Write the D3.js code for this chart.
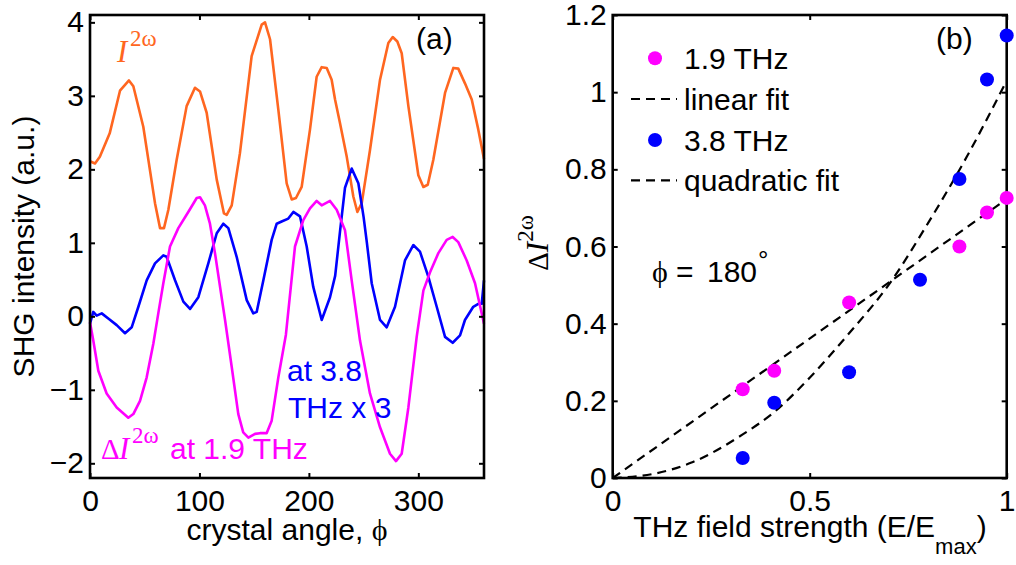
<!DOCTYPE html>
<html><head><meta charset="utf-8">
<script src="https://cdn.jsdelivr.net/npm/d3@7"></script>
<style>
html,body{margin:0;padding:0;background:#fff;}
</style></head>
<body>
<svg id="chart" width="1016" height="565" font-family="Liberation Sans, Arial, sans-serif"></svg>
<script>
// ---------- Panel (a) data ----------
const orangePhi = [0,4.6,9,18,27.4,35.6,39.6,48.7,59.4,64,67.6,71.6,79.2,88.3,95.9,100.5,106.6,115.8,122.4,124.9,129.5,137,147.7,156.9,159.9,164.5,172.1,179.7,184.3,188.2,193.4,201,207.1,211.7,216.3,220.8,223.9,228.4,234.6,240.6,244.3,248.3,255.8,265,272.6,276.6,280.8,284.8,290.9,300,304.6,308.6,313.7,324.4,332,336.5,342.6,348.8,354.8,360];
const orangeVal = [2.11,2.08,2.17,2.49,3.07,3.21,3.13,2.58,1.54,1.20,1.20,1.45,2.13,2.86,3.11,3.06,2.77,1.86,1.40,1.38,1.51,2.22,3.54,3.97,4.00,3.77,2.81,1.81,1.59,1.61,1.76,2.54,3.26,3.39,3.38,3.22,2.95,2.63,2.17,1.63,1.42,1.54,2.26,3.22,3.72,3.80,3.74,3.58,2.86,1.92,1.76,1.79,2.13,3.04,3.38,3.37,3.17,2.95,2.54,2.14];

const magentaPhi = [0,3,7.6,15.2,24.4,35,39.6,45.7,51.8,57.9,62.4,67,73.1,80.7,89.8,97.5,100.5,105,109.6,114.2,123.4,129.5,135.5,140,144.7,150.8,155.3,161.4,166,172.1,179,187.3,194.9,201,207.1,211.7,219.3,225.4,233,239.1,246.7,255.8,265,274.1,279.6,284.8,290.9,298.5,304.6,310.7,318.3,325.9,331.4,336.5,344.2,351.8,360];
const magentaVal = [-0.08,-0.33,-0.74,-1.05,-1.24,-1.38,-1.33,-1.15,-0.83,-0.37,0.04,0.45,0.95,1.20,1.42,1.61,1.62,1.51,1.26,0.86,-0.05,-0.69,-1.33,-1.58,-1.65,-1.60,-1.59,-1.59,-1.42,-0.83,-0.25,0.95,1.31,1.47,1.57,1.51,1.57,1.45,1.17,0.49,-0.33,-1.05,-1.51,-1.87,-1.97,-1.87,-1.24,-0.28,0.35,0.60,0.86,1.04,1.08,1.01,0.76,0.45,-0.10];

const bluePhi = [0,3,6.1,10.7,16.7,24.4,32,38.1,44.2,51.8,59.4,67,70,77.7,85.3,91.4,99,108.1,115.8,121.8,126.4,134,143.2,149.2,152.3,158.4,166,170.6,175.1,181.2,185.8,191.9,198,204,211.7,219.3,224,228.4,233,239.1,245.2,250,253,257.4,265,271.1,278.7,287.8,295.4,301.5,309.1,316.8,324.4,331.4,338.1,342.6,350.2,354.8,357.9,360];
const blueVal = [-0.10,0.06,0.01,0.04,-0.03,-0.12,-0.23,-0.15,0.13,0.49,0.72,0.83,0.81,0.49,0.20,0.10,0.26,0.72,1.13,1.26,1.20,0.81,0.22,0.04,0.06,0.49,1.04,1.26,1.29,1.33,1.42,1.36,0.95,0.40,-0.05,0.26,0.55,1.15,1.75,2.01,1.81,1.35,1.00,0.45,-0.05,-0.15,0.13,0.76,0.97,0.88,0.54,0.13,-0.28,-0.36,-0.26,-0.05,0.13,0.17,0.17,0.49];

const aXTicks = [0,100,200,300];
const aYTicks = [-2,-1,0,1,2,3,4];

// ---------- Panel (b) data ----------
const field19 = [0.33,0.41,0.60,0.88,0.95,1.00];
const dI19    = [0.230,0.278,0.455,0.600,0.688,0.726];
const field38 = [0.33,0.41,0.60,0.78,0.88,0.95,1.00];
const dI38    = [0.052,0.195,0.274,0.514,0.775,1.033,1.147];
const linFitX = [0,1];
const linFitY = [0,0.723];
const quadFitX = [0,0.1,0.2,0.33,0.41,0.5,0.6,0.7,0.8,0.9,1.0];
const quadFitY = [0,0.01,0.04,0.113,0.171,0.26,0.375,0.50,0.66,0.835,1.03];
const bXTicks = [0,0.5,1];
const bYTicks = [0,0.2,0.4,0.6,0.8,1,1.2];

const ORANGE = "#ff6620", MAGENTA = "#ff00ff", BLUE = "#0000ff";
const FS = 30;
const SERIF = "Liberation Serif, Times New Roman, serif";

const svg = d3.select("#chart");

function frame(g, x, y, xt, yt, fmtX, fmtY) {
  const [x0,x1] = x.range(), [y0,y1] = y.range();
  const b = g.append("g").attr("transform",`translate(0,${y0})`)
    .call(d3.axisBottom(x).tickValues(xt).tickSize(-5).tickPadding(12).tickFormat(fmtX));
  const t = g.append("g").attr("transform",`translate(0,${y1})`)
    .call(d3.axisTop(x).tickValues(xt).tickSize(-5).tickFormat(""));
  const l = g.append("g").attr("transform",`translate(${x0},0)`)
    .call(d3.axisLeft(y).tickValues(yt).tickSize(-5).tickPadding(6).tickFormat(fmtY));
  const r = g.append("g").attr("transform",`translate(${x1},0)`)
    .call(d3.axisRight(y).tickValues(yt).tickSize(-5).tickFormat(""));
  [b,t,l,r].forEach(a=>{
    a.attr("font-family",null).attr("font-size",null);
    a.select(".domain").remove();
    a.selectAll(".tick line").attr("stroke","#000").attr("stroke-width",2);
    a.selectAll(".tick text").attr("font-size",FS).attr("fill","#000");
  });
  g.append("rect").attr("x",x0).attr("y",y1).attr("width",x1-x0).attr("height",y0-y1)
    .attr("fill","none").attr("stroke","#000").attr("stroke-width",2.6);
}

// ---------- Panel (a) ----------
const xa = d3.scaleLinear().domain([0,360]).range([90,484]);
const ya = d3.scaleLinear().domain([-2.2,4.1]).range([478,15]);
const ga = svg.append("g");
const lineA = d3.line().x(d=>xa(d[0])).y(d=>ya(d[1]));
[[orangePhi,orangeVal,ORANGE],[bluePhi,blueVal,BLUE],[magentaPhi,magentaVal,MAGENTA]].forEach(([p,v,c])=>{
  ga.append("path").attr("d",lineA(p.map((d,i)=>[d,v[i]])))
    .attr("fill","none").attr("stroke",c).attr("stroke-width",2.6).attr("stroke-linejoin","round");
});
frame(ga, xa, ya, aXTicks, aYTicks, d3.format("d"), d3.format("d"));

// annotations (a)
ga.append("text").attr("x",416).attr("y",49).attr("font-size",FS).text("(a)");
ga.append("text").attr("x",117).attr("y",62).attr("font-family",SERIF)
  .attr("font-style","italic").attr("font-size",31).attr("fill",ORANGE).text("I");
ga.append("text").attr("x",130).attr("y",46).attr("font-family",SERIF)
  .attr("font-size",23).attr("fill",ORANGE).text("2ω");

ga.append("text").attr("x",101).attr("y",459).attr("font-family",SERIF)
  .attr("font-size",29).attr("fill",MAGENTA).text("Δ");
ga.append("text").attr("x",119).attr("y",459).attr("font-family",SERIF)
  .attr("font-style","italic").attr("font-size",31).attr("fill",MAGENTA).text("I");
ga.append("text").attr("x",132).attr("y",443).attr("font-family",SERIF)
  .attr("font-size",23).attr("fill",MAGENTA).text("2ω");
ga.append("text").attr("x",170).attr("y",459).attr("font-size",FS).attr("fill",MAGENTA).text("at 1.9 THz");

ga.append("text").attr("x",287).attr("y",381).attr("font-size",FS).attr("fill",BLUE).text("at 3.8");
ga.append("text").attr("x",288).attr("y",418).attr("font-size",FS).attr("fill",BLUE).text("THz x 3");

// axis labels (a)
const xla = ga.append("text").attr("x",287).attr("y",540).attr("text-anchor","middle").attr("font-size",FS);
xla.append("tspan").text("crystal angle, ");
xla.append("tspan").attr("font-family",SERIF).text("ϕ");
ga.append("text").attr("transform","translate(34,246.5) rotate(-90)").attr("text-anchor","middle")
  .attr("font-size",FS).text("SHG intensity (a.u.)");

// ---------- Panel (b) ----------
const xb = d3.scaleLinear().domain([0,1]).range([612.7,1006.7]);
const yb = d3.scaleLinear().domain([0,1.2]).range([478,15]);
const gb = svg.append("g");
const lineB = d3.line().x(d=>xb(d[0])).y(d=>yb(d[1]));
gb.append("path").attr("d",lineB(linFitX.map((d,i)=>[d,linFitY[i]])))
  .attr("fill","none").attr("stroke","#000").attr("stroke-width",2.2).attr("stroke-dasharray","9,6");
gb.append("path").attr("d",lineB.curve(d3.curveMonotoneX)(quadFitX.map((d,i)=>[d,quadFitY[i]])))
  .attr("fill","none").attr("stroke","#000").attr("stroke-width",2.2).attr("stroke-dasharray","9,6");
frame(gb, xb, yb, bXTicks, bYTicks, d3.format("~g"), d3.format("~g"));

gb.selectAll("circle.m19").data(field19.map((d,i)=>[d,dI19[i]])).join("circle")
  .attr("cx",d=>xb(d[0])).attr("cy",d=>yb(d[1])).attr("r",7).attr("fill",MAGENTA);
gb.selectAll("circle.m38").data(field38.map((d,i)=>[d,dI38[i]])).join("circle")
  .attr("cx",d=>xb(d[0])).attr("cy",d=>yb(d[1])).attr("r",7).attr("fill",BLUE);

gb.append("text").attr("x",936).attr("y",49).attr("font-size",FS).text("(b)");

// legend
gb.append("circle").attr("cx",655).attr("cy",58.3).attr("r",7).attr("fill",MAGENTA);
gb.append("text").attr("x",684).attr("y",69).attr("font-size",FS).text("1.9 THz");
gb.append("line").attr("x1",631).attr("x2",677).attr("y1",99).attr("y2",99)
  .attr("stroke","#000").attr("stroke-width",2.2).attr("stroke-dasharray","9,6");
gb.append("text").attr("x",684).attr("y",110).attr("font-size",FS).text("linear fit");
gb.append("circle").attr("cx",655).attr("cy",140).attr("r",7).attr("fill",BLUE);
gb.append("text").attr("x",684).attr("y",151).attr("font-size",FS).text("3.8 THz");
gb.append("line").attr("x1",631).attr("x2",677).attr("y1",180.3).attr("y2",180.3)
  .attr("stroke","#000").attr("stroke-width",2.2).attr("stroke-dasharray","9,6");
gb.append("text").attr("x",684).attr("y",191).attr("font-size",FS).text("quadratic fit");

// phi = 180°
const phiT = gb.append("text").attr("y",281.7).attr("font-size",FS);
phiT.append("tspan").attr("x",652).attr("font-family",SERIF).text("ϕ");
phiT.append("tspan").attr("x",676).text("=");
phiT.append("tspan").attr("x",707).text("180");
gb.append("text").attr("x",758).attr("y",269).attr("font-size",26).text("°");

// axis labels (b)
const xlb = gb.append("text").attr("x",810).attr("y",537).attr("text-anchor","middle").attr("font-size",FS);
xlb.append("tspan").text("THz field strength (E/E");
xlb.append("tspan").attr("dy",17).attr("font-size",22).text("max");
xlb.append("tspan").attr("dy",-17).text(")");

const ylb = gb.append("text").attr("transform","translate(548,243) rotate(-90)").attr("text-anchor","middle")
  .attr("font-family",SERIF).attr("font-size",29);
ylb.append("tspan").text("Δ");
ylb.append("tspan").attr("font-style","italic").attr("font-size",31).text("I");
ylb.append("tspan").attr("dy",-15).attr("font-size",23).text("2ω");
</script>
</body></html>
